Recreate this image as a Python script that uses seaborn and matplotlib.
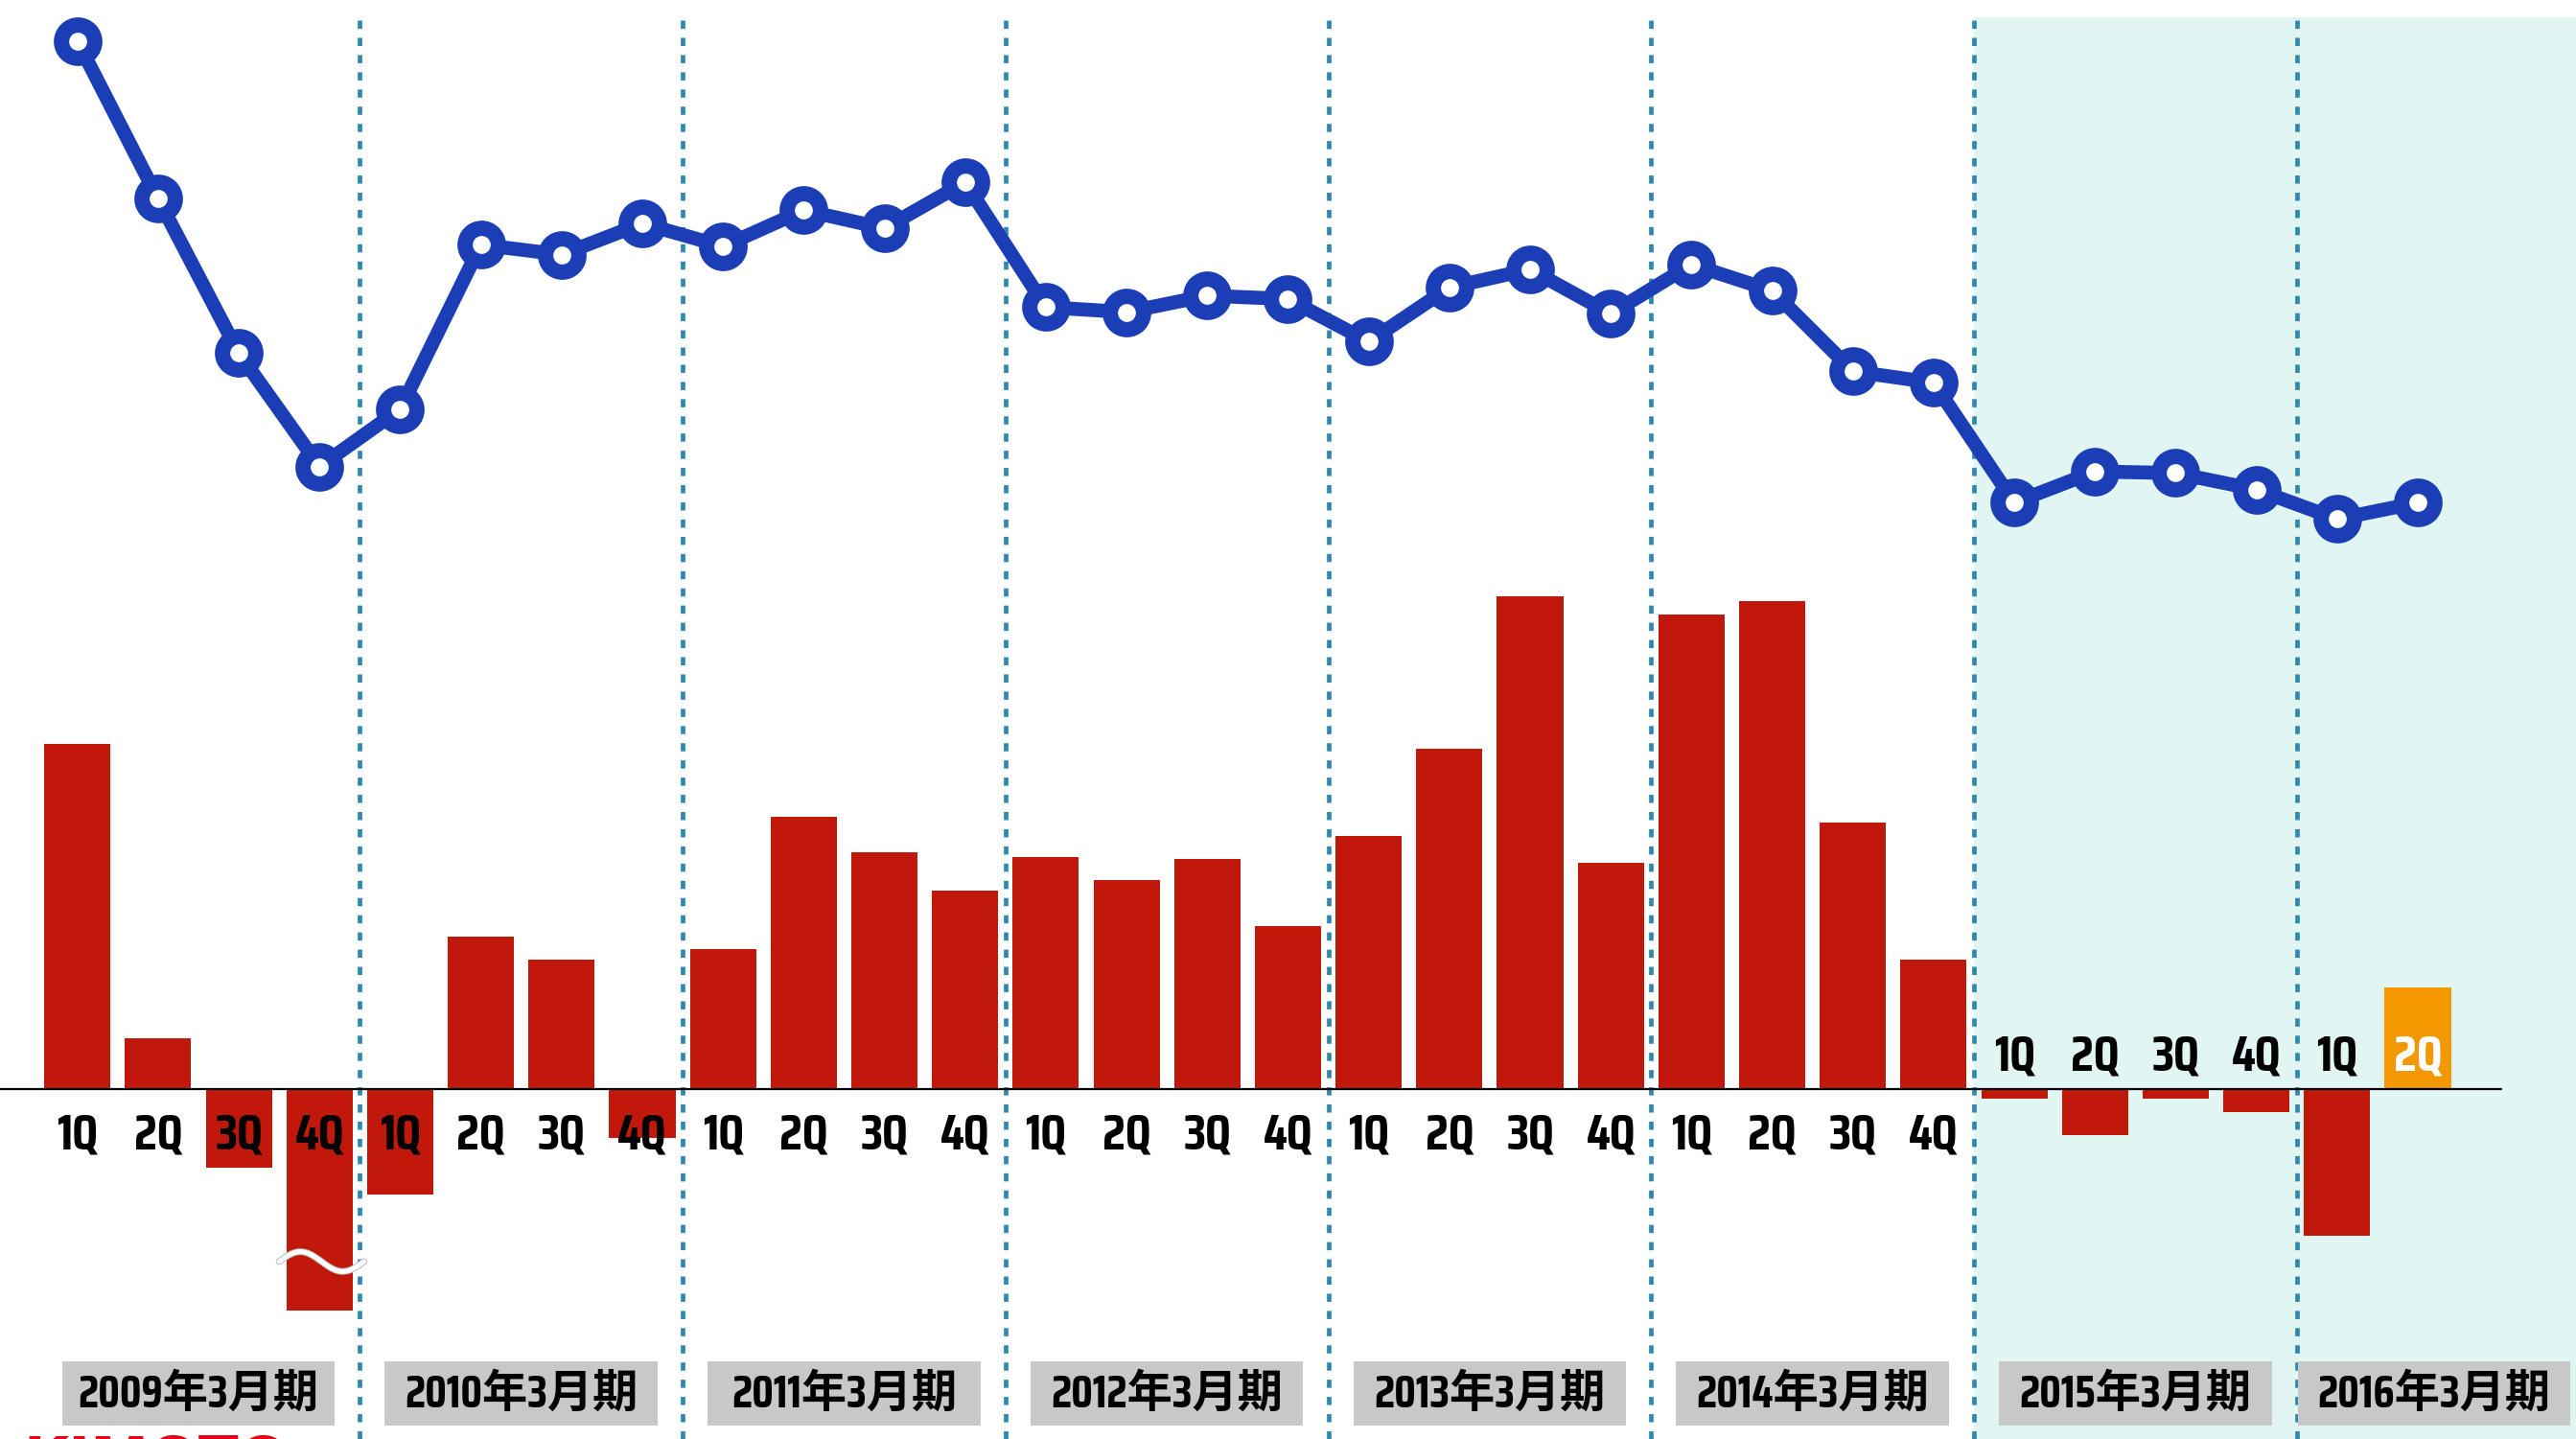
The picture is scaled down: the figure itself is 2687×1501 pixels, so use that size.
import numpy as np
import matplotlib
matplotlib.use("Agg")
import matplotlib.pyplot as plt
import matplotlib.patheffects as pe
from matplotlib.patches import Rectangle
from matplotlib import font_manager as fm
import seaborn as sns

# quarterly data, FY ending March 2009 .. 2016 (2Q)
years = ["2009年3月期", "2010年3月期", "2011年3月期", "2012年3月期",
         "2013年3月期", "2014年3月期", "2015年3月期", "2016年3月期"]
quarters = ["1Q", "2Q", "3Q", "4Q"] * 7 + ["1Q", "2Q"]

# upper line series (index units)
line_vals = [375, 279, 185, 116,
             151, 251, 245, 264,
             250, 272, 261, 289,
             213, 210, 220, 218,
             192, 225, 236, 209,
             239, 223, 174, 167,
             94, 113, 112, 102,
             84, 94]

# lower bar series (index units, 2009 4Q is truncated)
bar_vals = [210, 31, -48, -135,
            -64, 93, 79, -30,
            85, 166, 144, 121,
            141, 127, 140, 99,
            154, 207, 300, 138,
            289, 297, 162, 79,
            -6, -28, -6, -14,
            -89, 62]

RED = "#c0190b"
ORANGE = "#f39800"
BLUE = "#1b3db6"
SHADE = "#e1f6f3"
SEP = "#2f88b0"
BOX = "#c8c8c8"


def pick(cands, default="Noto Sans"):
    installed = {f.name for f in fm.fontManager.ttflist}
    for c in cands:
        if c in installed:
            return c
    return default


latin = pick(["Saira Semi Condensed", "Saira Condensed", "Roboto Condensed",
              "Liberation Sans Narrow"])

sns.set_theme(style="white")
plt.rcParams["font.family"] = [latin, "Noto Sans CJK JP", "DejaVu Sans"]

fig = plt.figure(figsize=(26.87, 15.01), dpi=100)
ax = fig.add_axes([0, 0, 1, 1])

n = len(bar_vals)
idx = list(range(n))
bar_colors = [RED] * (n - 1) + [ORANGE]

sns.barplot(x=idx, y=bar_vals, ax=ax, color=RED, width=0.82, saturation=1, zorder=3)
for p, c in zip(ax.patches, bar_colors):
    p.set_facecolor(c)
    p.set_edgecolor("none")

XL = (-0.959, 30.96)
ax.set_xlim(*XL)
ax.set_ylim(-213, 663)
ax.axis("off")

# shaded recent periods and year separators
ax.axvspan(23.5, 31, ymin=0, ymax=0.988, color=SHADE, zorder=0, lw=0)
for k in range(7):
    ax.axvline(3.5 + 4 * k, ymin=0, ymax=0.988, color=SEP, lw=3.4,
               dashes=(1.8, 2.0), zorder=2)

ax.axhline(0, xmin=0, xmax=0.971, color="black", lw=1.6, zorder=4)

# break mark on the truncated bar
t = np.linspace(0, 1, 60)
ax.plot(2.5 + t * 1.05, -105 + 6 * np.sin(2 * np.pi * t), color="white", lw=3.6,
        zorder=5, solid_capstyle="round",
        path_effects=[pe.Stroke(linewidth=5, foreground="#bbbbbb"), pe.Normal()])

# quarter labels
for i, q in enumerate(quarters):
    if i < 24:
        ypos, col = -28, "black"
    else:
        ypos, col = 20, ("white" if i == n - 1 else "black")
    ax.text(i, ypos, q, ha="center", va="center", fontsize=38, fontweight="bold",
            color=col, zorder=6)

# fiscal year boxes
centers = [1.5 + 4 * k for k in range(7)] + [29.2]
for c, y in zip(centers, years):
    ax.add_patch(Rectangle((c - 1.69, -205), 3.38, 39, facecolor=BOX, edgecolor="none", zorder=5))
    ax.text(c, -185.5, y, ha="center", va="center", fontsize=34, fontweight="bold",
            color="black", zorder=6)

# line on twin axis
ax2 = ax.twinx()
sns.lineplot(x=idx, y=line_vals, ax=ax2, color=BLUE, lw=10.5, marker="o",
             markersize=25, markerfacecolor="white", markeredgecolor=BLUE,
             markeredgewidth=11.5, zorder=7)
ax2.set_xlim(*XL)
ax2.set_ylim(-476, 400)
ax2.axis("off")

# logo, mostly cut by the bottom edge
fig.text(0.009, 0.003, "KIMOTO", color="#e60012", fontsize=44, fontweight="bold",
         ha="left", va="top", family="DejaVu Sans")

fig.savefig("out.png", dpi=100)
